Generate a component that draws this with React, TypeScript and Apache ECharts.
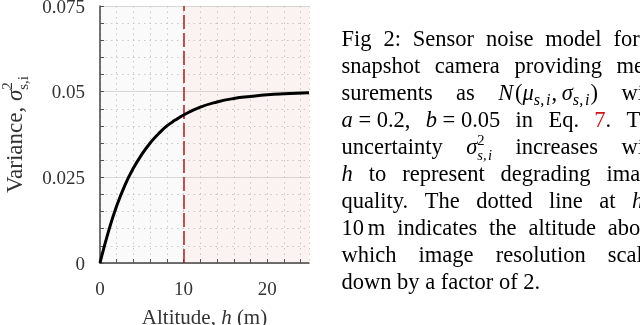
import React, { useEffect, useRef } from 'react';
import * as echarts from 'echarts';

// ---- data ----
const altitude = [0, 1, 2, 3, 4, 5, 6, 7, 8, 9, 10, 12, 14, 16, 18, 20, 22, 25];
const variance = [0, 0.0091, 0.0167, 0.0228, 0.0277, 0.0317, 0.035, 0.0377, 0.04, 0.0417, 0.0432, 0.0455, 0.047, 0.048, 0.0486, 0.0491, 0.0494, 0.0497];
const xTickLabels = [0, 10, 20];
const yTickLabels = [0, 0.025, 0.05, 0.075];
const thresholdAltitude = 10;
const xMax = 25;
const yMax = 0.075;

type Seg = { t: string; it?: boolean; s?: number; dy?: number; c?: string; hold?: boolean; pre?: number };
const w = (s: string): Seg[] => [{ t: s }];

const captionLines: Seg[][][] = [
  [w('Fig'), w('2:'), w('Sensor'), w('noise'), w('model'), w('for'), w('a')],
  [w('snapshot'), w('camera'), w('providing'), w('mea-')],
  [
    w('surements'),
    w('as'),
    [
      { t: 'N', it: true },
      { t: '(', pre: 0.08 },
      { t: 'μ', it: true },
      { t: 's,', it: true, s: 0.72, dy: 0.22 },
      { t: 'i', it: true, s: 0.72, dy: 0.22, pre: 0.08 },
      { t: ',', pre: 0.05 },
      { t: 'σ', it: true, pre: 0.2 },
      { t: 's,', it: true, s: 0.72, dy: 0.22 },
      { t: 'i', it: true, s: 0.72, dy: 0.22, pre: 0.08 },
      { t: ')', pre: 0.05 },
    ],
    w('with'),
  ],
  [
    [{ t: 'a', it: true }, { t: ' = 0.2,' }],
    [{ t: 'b', it: true }, { t: ' = 0.05' }],
    w('in'),
    w('Eq.'),
    [{ t: '7', c: '#d01515' }, { t: '.' }],
    w('The'),
  ],
  [
    w('uncertainty'),
    [
      { t: 'σ', it: true },
      { t: '2', s: 0.65, dy: -0.42, hold: true },
      { t: 's,', it: true, s: 0.65, dy: 0.25 },
      { t: 'i', it: true, s: 0.65, dy: 0.25, pre: 0.06 },
    ],
    w('increases'),
    w('with'),
  ],
  [[{ t: 'h', it: true }], w('to'), w('represent'), w('degrading'), w('image')],
  [w('quality.'), w('The'), w('dotted'), w('line'), w('at'), [{ t: 'h', it: true }, { t: ' =' }]],
  [[{ t: '10' }, { t: 'm', pre: 0.17 }], w('indicates'), w('the'), w('altitude'), w('above')],
  [w('which'), w('image'), w('resolution'), w('scales')],
  [w('down'), w('by'), w('a'), w('factor'), w('of'), w('2.')],
];

const SERIF = 'Liberation Serif';

export default function App() {
  const ref = useRef<HTMLDivElement>(null);

  useEffect(() => {
    if (!ref.current) return;
    const chart = echarts.init(ref.current, undefined, { renderer: 'svg' });

    const ctx = document.createElement('canvas').getContext('2d')!;
    const meas = (t: string, it: boolean | undefined, fs: number) => {
      ctx.font = `${it ? 'italic ' : ''}${fs}px "${SERIF}"`;
      return ctx.measureText(t).width;
    };

    const layoutWord = (word: Seg[], x0: number, baseline: number, size: number, color: string, draw: boolean) => {
      const els: any[] = [];
      let cur = x0;
      let holdEnd = -Infinity;
      for (const seg of word) {
        const fs = size * (seg.s || 1);
        const wd = meas(seg.t, seg.it, fs);
        const x = cur + (seg.pre || 0) * size;
        if (draw) {
          els.push({
            type: 'text',
            x,
            y: baseline + (seg.dy || 0) * size - 0.3375 * fs,
            silent: true,
            style: {
              text: seg.t,
              fontSize: fs,
              fontFamily: SERIF,
              fontStyle: seg.it ? 'italic' : 'normal',
              fill: seg.c || color,
              align: 'left',
              verticalAlign: 'middle',
            },
          });
        }
        if (seg.hold) {
          holdEnd = x + wd;
          cur = x;
        } else {
          cur = Math.max(x + wd, holdEnd);
          holdEnd = -Infinity;
        }
      }
      return { els, width: cur - x0 };
    };

    const graphics: any[] = [];

    // caption
    const capSize = 22.5;
    const capLeft = 341.5;
    const capWidth = 320;
    const spaceW = meas(' ', false, capSize);
    captionLines.forEach((line, li) => {
      const baseline = 46.5 + 27 * li;
      const widths = line.map((wd) => layoutWord(wd, 0, 0, capSize, '#000', false).width);
      const total = widths.reduce((a, b) => a + b, 0);
      const last = li === captionLines.length - 1;
      const gap = last ? spaceW : (capWidth - total) / (line.length - 1);
      let x = capLeft;
      line.forEach((wd, i) => {
        const r = layoutWord(wd, x, baseline, capSize, '#000', true);
        graphics.push(...r.els);
        x += widths[i] + gap;
      });
    });

    // x axis title
    const xTitle: Seg[] = [{ t: 'Altitude, ' }, { t: 'h', it: true }, { t: ' (m)' }];
    const xtw = layoutWord(xTitle, 0, 0, 21, '#333', false).width;
    graphics.push(...layoutWord(xTitle, 204.5 - xtw / 2, 324, 21, '#333', true).els);

    // y axis title (rotated)
    const yTitle: Seg[] = [
      { t: 'Variance, ' },
      { t: 'σ', it: true },
      { t: '2', s: 0.65, dy: -0.42, hold: true },
      { t: 's,i', s: 0.65, dy: 0.25 },
    ];
    const ySize = 23;
    const ytw = layoutWord(yTitle, 0, 0, ySize, '#333', false).width;
    graphics.push({
      type: 'group',
      x: 22,
      y: 134.5 + ytw / 2,
      rotation: Math.PI / 2,
      silent: true,
      children: layoutWord(yTitle, 0, 0, ySize, '#333', true).els,
    });

    const tickFont = { fontFamily: SERIF, fontSize: 19, color: '#333' };
    const dotted = { color: '#cdcdcd', type: [1.5, 4], width: 1 };

    chart.setOption({
      animation: false,
      grid: { left: 100, top: 6, width: 209, height: 257, outerBoundsMode: 'none' },
      xAxis: {
        type: 'value',
        min: 0,
        max: xMax,
        interval: 2,
        axisLine: { lineStyle: { color: '#444', width: 1.5 } },
        axisTick: { inside: true, length: 4, lineStyle: { color: '#555' } },
        axisLabel: {
          ...tickFont,
          margin: 16,
          showMaxLabel: false,
          formatter: (v: number) => (xTickLabels.includes(v) ? String(v) : ''),
        },
        splitLine: { show: true, lineStyle: dotted },
      },
      yAxis: [
        {
          type: 'value',
          min: 0,
          max: yMax,
          interval: 0.005,
          axisLine: { show: true, lineStyle: { color: '#444', width: 1.5 } },
          axisTick: { show: true, inside: true, length: 4, lineStyle: { color: '#555' } },
          axisLabel: {
            ...tickFont,
            margin: 15,
            formatter: (v: number) => {
              const t = yTickLabels.find((q) => Math.abs(q - v) < 1e-9);
              return t === undefined ? '' : String(t);
            },
          },
          splitLine: { show: true, lineStyle: dotted },
        },
        {
          type: 'value',
          min: 0,
          max: yMax,
          interval: 0.025,
          axisLine: { show: false },
          axisTick: { show: false },
          axisLabel: { show: false },
          splitLine: { show: true, lineStyle: { color: '#dcdcdc', width: 1 } },
        },
      ],
      series: [
        {
          type: 'line',
          yAxisIndex: 0,
          data: altitude.map((h, i) => [h, variance[i]]),
          smooth: true,
          showSymbol: false,
          lineStyle: { color: '#000', width: 3 },
          z: 5,
          markArea: {
            silent: true,
            data: [
              [{ xAxis: 0, itemStyle: { color: 'rgba(0,0,0,0.02)' } }, { xAxis: thresholdAltitude }],
              [{ xAxis: thresholdAltitude, itemStyle: { color: 'rgba(200,60,60,0.065)' } }, { xAxis: xMax }],
            ],
          },
          markLine: {
            silent: true,
            symbol: ['none', 'none'],
            label: { show: false },
            lineStyle: { color: '#b01c1c', width: 1.5, type: [14, 4] },
            data: [{ xAxis: thresholdAltitude }],
          },
        },
      ],
      graphic: { elements: graphics },
    });

    return () => chart.dispose();
  }, []);

  return <div ref={ref} style={{ position: 'fixed', left: 0, top: 0, width: 640, height: 325 }} />;
}
